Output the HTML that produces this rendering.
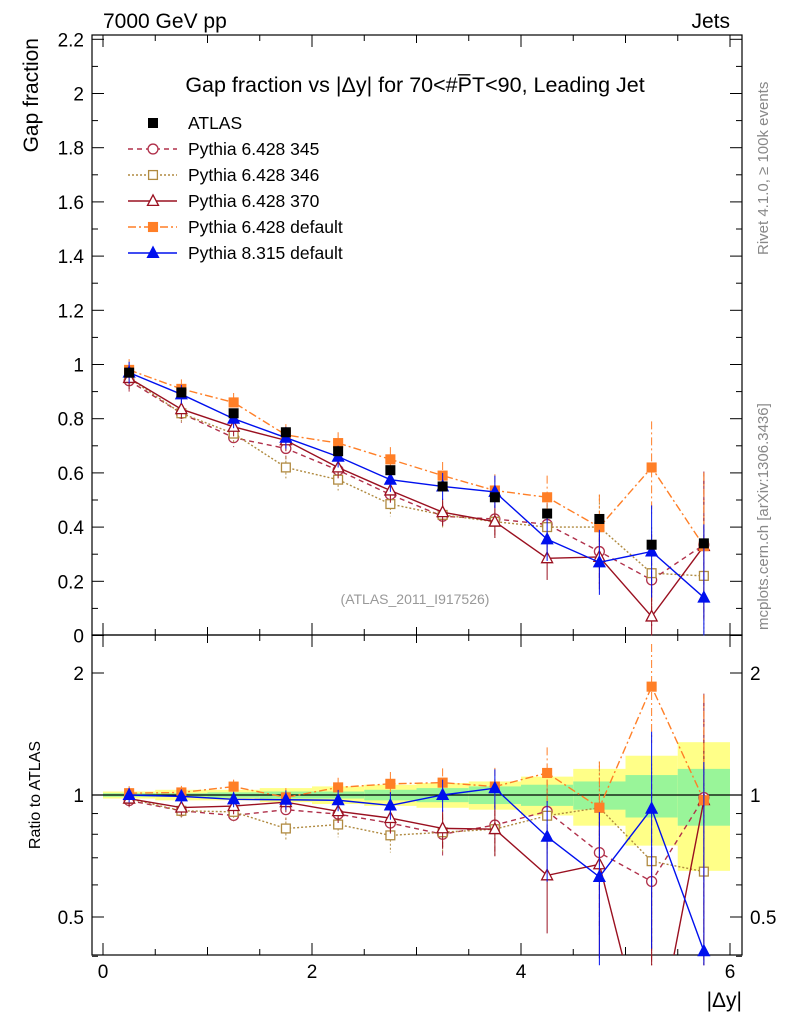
<!DOCTYPE html>
<html><head><meta charset="utf-8"><style>
body{margin:0;background:#fff;}
svg text{font-family:"Liberation Sans",sans-serif;}
</style></head><body>
<svg id="c" width="786" height="1024" xmlns="http://www.w3.org/2000/svg"></svg>
<script>
const xCenters=[0.25,0.75,1.25,1.75,2.25,2.75,3.25,3.75,4.25,4.75,5.25,5.75];
const atlasVals=[0.97,0.897,0.82,0.75,0.68,0.61,0.55,0.51,0.45,0.43,0.335,0.34];
const p345Vals=[0.94,0.82,0.73,0.69,0.61,0.52,0.44,0.43,0.41,0.31,0.205,0.335];
const p346Vals=[0.95,0.82,0.745,0.62,0.575,0.485,0.445,0.42,0.40,0.40,0.23,0.22];
const p370Vals=[0.95,0.835,0.77,0.72,0.62,0.535,0.455,0.42,0.285,0.29,0.07,0.33];
const pdefVals=[0.98,0.91,0.86,0.74,0.71,0.65,0.59,0.535,0.51,0.40,0.62,0.33];
const p8Vals=[0.97,0.89,0.80,0.73,0.66,0.575,0.55,0.53,0.355,0.27,0.31,0.14];
const mcErr=[0.04,0.035,0.035,0.04,0.04,0.045,0.05,0.06,0.08,0.12,0.17,0.27];
const statBand=[0.01,0.01,0.015,0.02,0.02,0.03,0.04,0.05,0.06,0.08,0.12,0.16];
const totBand=[0.02,0.03,0.03,0.04,0.05,0.06,0.07,0.08,0.11,0.16,0.25,0.35];
const mainTicks=[0,0.2,0.4,0.6,0.8,1,1.2,1.4,1.6,1.8,2,2.2];
const mainTickLabels=["0","0.2","0.4","0.6","0.8","1","1.2","1.4","1.6","1.8","2","2.2"];
const ratioTicks=[0.5,1,2];
const xTicks=[0,2,4,6];

const L=92,R=742,T=35,M=635,B=955;
const X=v=>103+v*104.5;
const Y=v=>635.5-v*271;
const RY=v=>795-Math.log2(v)*122;
const svg=document.getElementById('c');
const NS='http://www.w3.org/2000/svg';
function el(tag,at,par){const e=document.createElementNS(NS,tag);for(const k in at)e.setAttribute(k,at[k]);(par||svg).appendChild(e);return e;}
function txt(s,at,par){const e=el('text',at,par);e.textContent=s;return e;}

const bands=el('g',{});


xCenters.forEach((c,i)=>{
 const y1=RY(Math.min(2.4,1+totBand[i])),y2=RY(Math.max(0.41,1-totBand[i]));
 el('rect',{x:X(c-0.25),y:y1,width:104.5/2,height:y2-y1,fill:'#ffff88'},bands);
 const g1=RY(1+statBand[i]),g2=RY(1-statBand[i]);
 el('rect',{x:X(c-0.25),y:g1,width:104.5/2,height:g2-g1,fill:'#99f599'},bands);
});
el('line',{x1:L,x2:R,y1:RY(1),y2:RY(1),stroke:'#000','stroke-width':1.2});

const f1=el('rect',{x:L,y:T,width:R-L,height:M-T,fill:'none',stroke:'#000','stroke-width':1.2});

const f2=el('rect',{x:L,y:M,width:R-L,height:B-M,fill:'none',stroke:'#000','stroke-width':1.2});


mainTicks.forEach((v,i)=>{
 const y=Y(v);
 el('line',{x1:L,x2:L+12,y1:y,y2:y,stroke:'#000'});el('line',{x1:R,x2:R-12,y1:y,y2:y,stroke:'#000'});
 const m=Y(v+0.1);if(v<2.2){el('line',{x1:L,x2:L+6,y1:m,y2:m,stroke:'#000'});el('line',{x1:R,x2:R-6,y1:m,y2:m,stroke:'#000'});}
 const t=txt(mainTickLabels[i],{x:L-8,y:y+7,'font-size':19,'text-anchor':'end'});
 
});
[0.4,0.5,0.6,0.7,0.8,0.9,1,2].forEach(v=>{const y=RY(v);el('line',{x1:L,x2:L+6,y1:y,y2:y,stroke:'#000'});el('line',{x1:R,x2:R-6,y1:y,y2:y,stroke:'#000'});});
ratioTicks.forEach(v=>{const y=RY(v);
 el('line',{x1:L,x2:L+12,y1:y,y2:y,stroke:'#000'});el('line',{x1:R,x2:R-12,y1:y,y2:y,stroke:'#000'});
 const a=txt(String(v),{x:L-8,y:y+7,'font-size':19,'text-anchor':'end'});
 
 const b=txt(String(v),{x:R+8,y:y+7,'font-size':19});
 
});
for(let v=0;v<=6;v+=0.5){const x=X(v);const big=v%2===0;const h=big?12:(v%1===0?8:6);
 el('line',{x1:x,x2:x,y1:M,y2:M-h,stroke:'#000'});el('line',{x1:x,x2:x,y1:B,y2:B-h,stroke:'#000'});
 el('line',{x1:x,x2:x,y1:M,y2:M+h,stroke:'#000'});el('line',{x1:x,x2:x,y1:T,y2:T+h,stroke:'#000'});}
xTicks.forEach(v=>{const t=txt(String(v),{x:X(v),y:978,'font-size':19,'text-anchor':'middle'});
 });

const lab=(s,at,n)=>{const t=txt(s,at);return t;};
lab('7000 GeV pp',{x:103,y:28,'font-size':21},'energy-label');
lab('Jets',{x:730,y:28,'font-size':21,'text-anchor':'end'},'process-label');
lab('Gap fraction vs |Δy| for 70<#P̅T<90, Leading Jet',{x:415,y:92,'font-size':21.5,'text-anchor':'middle'},'plot-title');
lab('Gap fraction',{x:0,y:0,'font-size':21,'text-anchor':'end',transform:'translate(38,38) rotate(-90)'},'y-axis-title');
lab('Ratio to ATLAS',{x:0,y:0,'font-size':16,'text-anchor':'middle',transform:'translate(40,795) rotate(-90)'},'ratio-axis-title');
lab('|Δy|',{x:742,y:1007,'font-size':21,'text-anchor':'end'},'x-axis-title');
lab('(ATLAS_2011_I917526)',{x:415,y:604,'font-size':14,fill:'#999','text-anchor':'middle'},'analysis-id');
lab('Rivet 4.1.0, ≥ 100k events',{x:0,y:0,'font-size':15,fill:'#888',transform:'translate(768,255) rotate(-90)'},'rivet-label');
lab('mcplots.cern.ch [arXiv:1306.3436]',{x:0,y:0,'font-size':15,fill:'#888',transform:'translate(768,630) rotate(-90)'},'mcplots-label');

const series=[
 {n:'pythia-6428-345',v:p345Vals,c:'#b0304a',d:'5,4',m:'circle',fill:false},
 {n:'pythia-6428-346',v:p346Vals,c:'#b08a40',d:'2,2',m:'square',fill:false},
 {n:'pythia-6428-370',v:p370Vals,c:'#9a1020',d:'',m:'tri',fill:false},
 {n:'pythia-6428-default',v:pdefVals,c:'#ff7f27',d:'8,3,2,3',m:'square',fill:true},
 {n:'pythia-8315-default',v:p8Vals,c:'#0010ee',d:'',m:'tri',fill:true}
];
function marker(g,m,x,y,c,fill,s){
 const f=fill?c:'#fff';
 if(m==='circle')el('circle',{cx:x,cy:y,r:s*0.9,fill:f,stroke:c,'stroke-width':1.3},g);
 else if(m==='square')el('rect',{x:x-s*0.8,y:y-s*0.8,width:s*1.6,height:s*1.6,fill:f,stroke:c,'stroke-width':1.3},g);
 else el('polygon',{points:`${x},${y-s*1.1} ${x-s},${y+s*0.8} ${x+s},${y+s*0.8}`,fill:f,stroke:c,'stroke-width':1.3},g);
}
function clipR(v){return Math.min(2.48,Math.max(0.38,v));}
series.forEach(s=>{
 const g=el('g',{});
 const pts=xCenters.map((c,i)=>X(c)+','+Y(s.v[i])).join(' ');
 el('polyline',{points:pts,fill:'none',stroke:s.c,'stroke-width':1.4,'stroke-dasharray':s.d},g);
 const rpts=xCenters.map((c,i)=>X(c)+','+RY(Math.max(0.2,s.v[i]/atlasVals[i]))).join(' ');
 const cp=el('clipPath',{id:'cp'+s.n});el('rect',{x:L,y:M,width:R-L,height:B-M},cp);
 el('polyline',{points:rpts,fill:'none',stroke:s.c,'stroke-width':1.4,'stroke-dasharray':s.d,'clip-path':'url(#cp'+s.n+')'},g);
 xCenters.forEach((c,i)=>{
  const x=X(c),v=s.v[i],e=mcErr[i];
  el('line',{x1:x,x2:x,y1:Y(v+e),y2:Y(Math.max(0,v-e)),stroke:s.c,'stroke-width':1,'stroke-dasharray':s.d},g);
  const p=el('g',{},g);
  marker(p,s.m,x,Y(v),s.c,s.fill,5.5);
  const r=v/atlasVals[i],re=e/atlasVals[i];
  el('line',{x1:x,x2:x,y1:RY(clipR(r+re)),y2:RY(clipR(Math.max(0.01,r-re))),stroke:s.c,'stroke-width':1,'stroke-dasharray':s.d},g);
  if(r>0.38&&r<2.48){const q=el('g',{},g);marker(q,s.m,x,RY(r),s.c,s.fill,5.5);}
 });
});
const ga=el('g',{});
xCenters.forEach((c,i)=>{const x=X(c),y=Y(atlasVals[i]);
 const r=el('rect',{x:x-5,y:y-5,width:10,height:10,fill:'#000'},ga);
 });

const leg=el('g',{});
const le=[{n:'ATLAS'}].concat(series);
const names=['ATLAS','Pythia 6.428 345','Pythia 6.428 346','Pythia 6.428 370','Pythia 6.428 default','Pythia 8.315 default'];
le.forEach((s,i)=>{const y=123+i*26;
 const g=el('g',{},leg);
 if(i===0)el('rect',{x:148,y:y-5,width:10,height:10,fill:'#000'},g);
 else{el('line',{x1:128,x2:177,y1:y,y2:y,stroke:s.c,'stroke-width':1.4,'stroke-dasharray':s.d},g);marker(g,s.m,153,y,s.c,s.fill,5.5);}
 txt(names[i],{x:188,y:y+6,'font-size':17.5},g);
});
</script>
</body></html>
